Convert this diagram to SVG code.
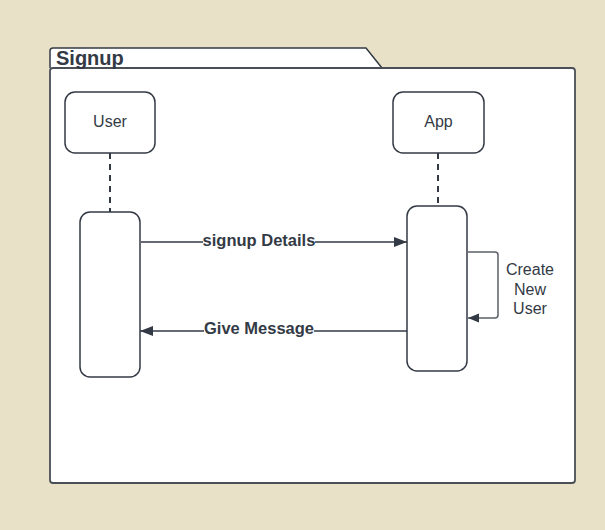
<svg xmlns="http://www.w3.org/2000/svg" width="605" height="530" viewBox="0 0 605 530">
<style>
.box{fill:#fff;stroke:#333a45;stroke-width:1.5}
.life{stroke:#333a45;stroke-width:2;stroke-dasharray:6,5;fill:none}
.msg{stroke:#333a45;stroke-width:1.5;fill:none}
.lbl{font-family:"Liberation Sans",Arial,sans-serif;font-size:16.5px;font-weight:bold;fill:#333a45}
.nt{font-family:"Liberation Sans",Arial,sans-serif;font-size:16px;fill:#333a45}
</style>
<defs>
<marker id="ah" markerWidth="14" markerHeight="12" refX="13" refY="6" orient="auto" markerUnits="userSpaceOnUse">
<path d="M0,1 L13,6 L0,11 Z" fill="#333a45"/>
</marker>
<marker id="ah2" markerWidth="12" markerHeight="10" refX="11" refY="5" orient="auto" markerUnits="userSpaceOnUse">
<path d="M0,0.5 L11,5 L0,9.5 Z" fill="#333a45"/>
</marker>
</defs>
<rect width="605" height="530" fill="#e8e1c8"/>
<g id="frame">
<path d="M50,68 L50,51 Q50,48 53,48 L366,48 L382,68" fill="#fff" stroke="#333a45" stroke-width="1.5"/>
<rect x="50" y="68" width="525" height="415" rx="3" fill="#fff" stroke="#4a4f57" stroke-width="1.8"/>
<text x="56" y="65" font-family="'Liberation Sans',Arial,sans-serif" font-size="20" font-weight="bold" fill="#333a45">Signup</text>
</g>
<g id="lifelines">
<line class="life" x1="110" y1="153" x2="110" y2="212"/>
<line class="life" x1="438" y1="153" x2="438" y2="206"/>
</g>
<g id="user">
<rect class="box" x="65" y="92" width="90" height="61" rx="10"/>
<text class="nt" x="110" y="127" text-anchor="middle">User</text>
</g>
<g id="app">
<rect class="box" x="393" y="92" width="91" height="61" rx="10"/>
<text class="nt" x="438.5" y="127" text-anchor="middle">App</text>
</g>
<g id="user-activation">
<rect class="box" x="80" y="212" width="60" height="165" rx="10"/>
</g>
<g id="app-activation">
<rect class="box" x="407" y="206" width="60" height="165" rx="10"/>
</g>
<g id="connectors">
<line class="msg" x1="141" y1="242" x2="203" y2="242"/>
<line class="msg" x1="315" y1="242" x2="407" y2="242" marker-end="url(#ah)"/>
<text class="lbl" x="259" y="246" text-anchor="middle">signup Details</text>
<line class="msg" x1="407" y1="331" x2="314" y2="331"/>
<line class="msg" x1="204" y1="331" x2="140" y2="331" marker-end="url(#ah)"/>
<text class="lbl" x="259" y="334" text-anchor="middle">Give Message</text>
<path d="M468,252 L495,252 Q498,252 498,255 L498,315 Q498,318 495,318 L468,318" fill="none" stroke="#5c6068" stroke-width="1.5" marker-end="url(#ah2)"/>
<text class="nt" x="530" y="275" text-anchor="middle">Create</text>
<text class="nt" x="530" y="295" text-anchor="middle">New</text>
<text class="nt" x="530" y="314" text-anchor="middle">User</text>
</g>
</svg>
